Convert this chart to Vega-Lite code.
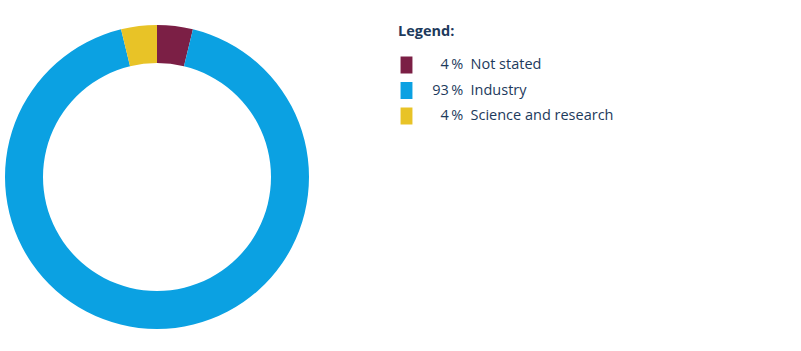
{
  "$schema": "https://vega.github.io/schema/vega-lite/v6.json",
  "width": 314,
  "height": 350,
  "padding": {"left": 0, "top": 2, "right": 0, "bottom": 0},
  "background": "white",
  "data": {
    "values": [
      {"category": "Not stated", "value": 3.8, "label": "\u200b\u2007\u20074\u2009%\u2002Not stated", "order": 1},
      {"category": "Industry", "value": 92.4, "label": "\u200b\u200793\u2009%\u2002Industry", "order": 2},
      {"category": "Science and research", "value": 3.8, "label": "\u200b\u2007\u20074\u2009%\u2002Science and research", "order": 3}
    ]
  },
  "mark": {"type": "arc", "radius": 152, "radius2": 114, "stroke": null},
  "encoding": {
    "theta": {"field": "value", "type": "quantitative", "stack": true},
    "order": {"field": "order", "type": "quantitative"},
    "color": {
      "field": "label",
      "type": "nominal",
      "sort": null,
      "scale": {
        "domain": ["\u200b\u2007\u20074\u2009%\u2002Not stated", "\u200b\u200793\u2009%\u2002Industry", "\u200b\u2007\u20074\u2009%\u2002Science and research"],
        "range": ["#7b1f45", "#0ba1e2", "#e8c327"]
      },
      "legend": {
        "title": "Legend:",
        "orient": "none",
        "legendX": 398,
        "legendY": 23,
        "titleFont": "Open Sans",
        "titleFontSize": 14.5,
        "titleFontWeight": "bold",
        "titleColor": "#1d3a5c",
        "titlePadding": 17,
        "labelFont": "Open Sans",
        "labelFontSize": 14.5,
        "labelColor": "#1d3a5c",
        "labelOffset": 9,
        "labelLimit": 400,
        "symbolType": "M-0.7,-1H0.7V1H-0.7Z",
        "symbolSize": 289,
        "symbolStrokeWidth": 0,
        "rowPadding": 8.5
      }
    }
  },
  "config": {"view": {"stroke": null}}
}
